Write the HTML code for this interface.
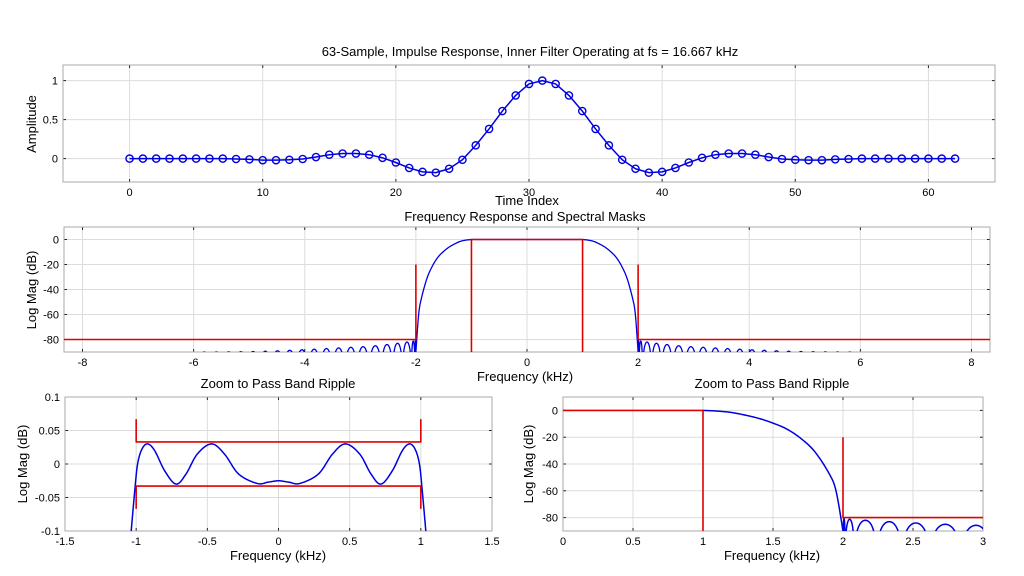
<!DOCTYPE html>
<html><head><meta charset="utf-8">
<style>
html,body{margin:0;padding:0;background:#fff;}
svg{display:block;font-family:"Liberation Sans",Arial,sans-serif;}
</style></head>
<body>
<svg id="fig" width="1024" height="576" viewBox="0 0 1024 576" xmlns="http://www.w3.org/2000/svg"></svg>
<script>
// ---------- Data ----------
const tapIndex = Array.from({length:63},(_,i)=>i);
const tapHalf = [0,0,0,0,0,0,0,0,-0.005,-0.01,-0.02,-0.02,-0.015,-0.005,0.02,0.05,0.065,0.065,0.05,0.01,-0.05,-0.12,-0.17,-0.18,-0.13,-0.015,0.17,0.38,0.61,0.81,0.957,1.0];
const tapValues = tapHalf.concat(tapHalf.slice(0,31).reverse());

const transF  = [1.0,1.1,1.2,1.3,1.4,1.5,1.6,1.7,1.8,1.9,1.95,2.0];
const transDB = [0,-0.5,-1.5,-3.5,-6,-9.5,-14,-21,-31,-47,-60,-90];

const lobeF  = [2.0,2.015,2.08,2.24,2.42,2.62,2.84,3.06,3.28,3.5,3.72,3.94,4.16,4.38,4.6,4.82,5.04,5.26,5.48,5.7,5.92];
const lobeDB = [-80.5,-81,-81.5,-82.5,-83.5,-84.5,-85.5,-86,-86.5,-87,-87.5,-88,-88.4,-88.8,-89.2,-89.5,-89.7,-89.85,-89.95,-90,-90];

const rippleF  = [-1.035,-1.01,-0.99,-0.96,-0.92,-0.87,-0.8,-0.72,-0.65,-0.57,-0.47,-0.38,-0.28,-0.15,-0.07,0];
const rippleDB = [-0.1,-0.04,0.0,0.022,0.03,0.02,-0.01,-0.03,-0.015,0.015,0.03,0.015,-0.015,-0.029,-0.027,-0.025];

const maskPassTol = 0.033, maskPassTick = 0.067;
const maskStopDB = -80, maskStopTop = -20, passEdge = 1, stopEdge = 2, fsHalf = 8.333;

// ---------- helpers ----------
const NS="http://www.w3.org/2000/svg";
const svg=document.getElementById('fig');
function el(tag,attrs,parent){const e=document.createElementNS(NS,tag);for(const k in attrs)e.setAttribute(k,attrs[k]);(parent||svg).appendChild(e);return e;}
function txt(s,x,y,anchor,size,parent,rot){const t=el('text',{x:x,y:y,'text-anchor':anchor||'middle','font-size':size||12,fill:'#000'},parent);if(rot)t.setAttribute('transform','rotate(-90 '+x+' '+y+')');t.textContent=s;return t;}
let clipId=0;
function axes(o,name){
  const g=el('g',{});
  
  
  const sx=v=>o.x0+(v-o.xmin)/(o.xmax-o.xmin)*(o.x1-o.x0);
  const sy=v=>o.y1-(v-o.ymin)/(o.ymax-o.ymin)*(o.y1-o.y0);
  el('rect',{x:o.x0,y:o.y0,width:o.x1-o.x0,height:o.y1-o.y0,fill:'#fff'},g);
  o.xticks.forEach((v,i)=>{const x=sx(v);
    el('line',{x1:x,x2:x,y1:o.y0,y2:o.y1,stroke:'#dcdcdc','stroke-width':1},g);
    el('line',{x1:x,x2:x,y1:o.y0,y2:o.y0+3,stroke:'#222'},g);
    el('line',{x1:x,x2:x,y1:o.y1,y2:o.y1-3,stroke:'#222'},g);
    const t=txt(o.xlabels[i],x,o.y1+14,'middle',11,g);
    });
  o.yticks.forEach((v,i)=>{const y=sy(v);
    el('line',{x1:o.x0,x2:o.x1,y1:y,y2:y,stroke:'#dcdcdc','stroke-width':1},g);
    el('line',{x1:o.x0,x2:o.x0+3,y1:y,y2:y,stroke:'#222'},g);
    el('line',{x1:o.x1,x2:o.x1-3,y1:y,y2:y,stroke:'#222'},g);
    const t=txt(o.ylabels[i],o.x0-5,y+4,'end',11,g);
    });
  el('rect',{x:o.x0,y:o.y0,width:o.x1-o.x0,height:o.y1-o.y0,fill:'none',stroke:'#aaa','stroke-width':1},g);
  const id='c'+(clipId++);
  const cp=el('clipPath',{id:id},g);el('rect',{x:o.x0,y:o.y0,width:o.x1-o.x0,height:o.y1-o.y0},cp);
  const pg=el('g',{'clip-path':'url(#'+id+')'},g);
  return {sx,sy,g:pg,o};
}
function path(pts,ax,color,w,name){
  const d=pts.map((p,i)=>(i?'L':'M')+ax.sx(p[0]).toFixed(2)+','+ax.sy(p[1]).toFixed(2)).join('');
  const p=el('path',{d:d,fill:'none',stroke:color,'stroke-width':w||1.5,'stroke-linejoin':'round'},ax.g);
  return p;
}
function catmull(xs,ys,n){const out=[];for(let i=0;i<xs.length-1;i++){const x0=xs[Math.max(i-1,0)],x1=xs[i],x2=xs[i+1],x3=xs[Math.min(i+2,xs.length-1)];const y0=ys[Math.max(i-1,0)],y1=ys[i],y2=ys[i+1],y3=ys[Math.min(i+2,ys.length-1)];
  for(let k=0;k<n;k++){const t=k/n,t2=t*t,t3=t2*t;
   const f=a=>0.5*((2*a[1])+(-a[0]+a[2])*t+(2*a[0]-5*a[1]+4*a[2]-a[3])*t2+(-a[0]+3*a[1]-3*a[2]+a[3])*t3);
   out.push([f([x0,x1,x2,x3]),f([y0,y1,y2,y3])]);}}
  out.push([xs[xs.length-1],ys[ys.length-1]]);return out;}
function responsePos(fmax){
  const pts=[];
  for(let f=0;f<=passEdge;f+=0.02)pts.push([f,0]);
  const tr=catmull(transF,transDB,10);pts.push(...tr);
  for(let i=0;i<lobeF.length-1;i++){const a=lobeF[i],b=lobeF[i+1],pk=(lobeDB[i]+lobeDB[i+1])/2;
    if(a>fmax)break;
    for(let k=0;k<=24;k++){const t=k/24;const s=Math.max(Math.sin(Math.PI*t),1e-5);pts.push([a+(b-a)*t,Math.max(pk+20*Math.log10(s),-95)]);}}
  return pts;
}

// ---------- Plot 1 ----------
txt('63-Sample, Impulse Response, Inner Filter Operating at fs = 16.667 kHz',530,56,'middle',13);
const a1=axes({x0:63,x1:995,y0:65,y1:182,xmin:-5,xmax:65,ymin:-0.3,ymax:1.2,
  xticks:[0,10,20,30,40,50,60],xlabels:['0','10','20','30','40','50','60'],
  yticks:[0,0.5,1],ylabels:['0','0.5','1']},'impulse-axes');
txt('Time Index',527,205,'middle',13);
txt('Amplitude',36,124,'middle',13,null,true);
path(tapIndex.map((n,i)=>[n,tapValues[i]]),a1,'#0000e0',1.5,'impulse-line');
tapIndex.forEach((n,i)=>{
  const c=el('circle',{cx:a1.sx(n),cy:a1.sy(tapValues[i]),r:3.6,fill:'none',stroke:'#0000e0','stroke-width':1.4},a1.g);
  
  
});

// ---------- Plot 2 ----------
txt('Frequency Response and Spectral Masks',525,221,'middle',13);
const a2=axes({x0:64,x1:990,y0:227,y1:352,xmin:-8.333,xmax:8.333,ymin:-90,ymax:10,
  xticks:[-8,-6,-4,-2,0,2,4,6,8],xlabels:['-8','-6','-4','-2','0','2','4','6','8'],
  yticks:[-80,-60,-40,-20,0],ylabels:['-80','-60','-40','-20','0']},'response-axes');
txt('Frequency (kHz)',525,381,'middle',13);
txt('Log Mag (dB)',36,290,'middle',13,null,true);
const pos=responsePos(8.4);
const full=pos.slice().reverse().map(p=>[-p[0],p[1]]).concat(pos);
path(full,a2,'#0000e0',1.3,'response-line');
path([[-fsHalf,maskStopDB],[-stopEdge,maskStopDB],[-stopEdge,maskStopTop]],a2,'#e00000',1.6,'stop-mask-left');
path([[fsHalf,maskStopDB],[stopEdge,maskStopDB],[stopEdge,maskStopTop]],a2,'#e00000',1.6,'stop-mask-right');
path([[-passEdge,-95],[-passEdge,0],[passEdge,0],[passEdge,-95]],a2,'#e00000',1.6,'pass-mask');

// ---------- Plot 3 ----------
txt('Zoom to Pass Band Ripple',278,388,'middle',13);
const a3=axes({x0:65,x1:492,y0:397,y1:531,xmin:-1.5,xmax:1.5,ymin:-0.1,ymax:0.1,
  xticks:[-1.5,-1,-0.5,0,0.5,1,1.5],xlabels:['-1.5','-1','-0.5','0','0.5','1','1.5'],
  yticks:[-0.1,-0.05,0,0.05,0.1],ylabels:['-0.1','-0.05','0','0.05','0.1']},'ripple-axes');
txt('Frequency (kHz)',278,560,'middle',13);
txt('Log Mag (dB)',27,464,'middle',13,null,true);
const rf=rippleF.concat(rippleF.slice(0,-1).reverse().map(v=>-v));
const rd=rippleDB.concat(rippleDB.slice(0,-1).reverse());
path(catmull(rf,rd,10),a3,'#0000e0',1.5,'ripple-line');
path([[-passEdge,maskPassTick],[-passEdge,maskPassTol],[passEdge,maskPassTol],[passEdge,maskPassTick]],a3,'#e00000',1.6,'upper-ripple-mask');
path([[-passEdge,-maskPassTick],[-passEdge,-maskPassTol],[passEdge,-maskPassTol],[passEdge,-maskPassTick]],a3,'#e00000',1.6,'lower-ripple-mask');

// ---------- Plot 4 ----------
txt('Zoom to Pass Band Ripple',772,388,'middle',13);
const a4=axes({x0:563,x1:983,y0:397,y1:531,xmin:0,xmax:3,ymin:-90,ymax:10,
  xticks:[0,0.5,1,1.5,2,2.5,3],xlabels:['0','0.5','1','1.5','2','2.5','3'],
  yticks:[-80,-60,-40,-20,0],ylabels:['-80','-60','-40','-20','0']},'transition-axes');
txt('Frequency (kHz)',772,560,'middle',13);
txt('Log Mag (dB)',533,464,'middle',13,null,true);
path(responsePos(3.2).filter(p=>p[0]>=passEdge),a4,'#0000e0',1.5,'transition-line');
path([[0,0],[passEdge,0],[passEdge,-95]],a4,'#e00000',1.6,'pass-mask');
path([[stopEdge,maskStopTop],[stopEdge,maskStopDB],[3,maskStopDB]],a4,'#e00000',1.6,'stop-mask');
</script>
</body></html>
